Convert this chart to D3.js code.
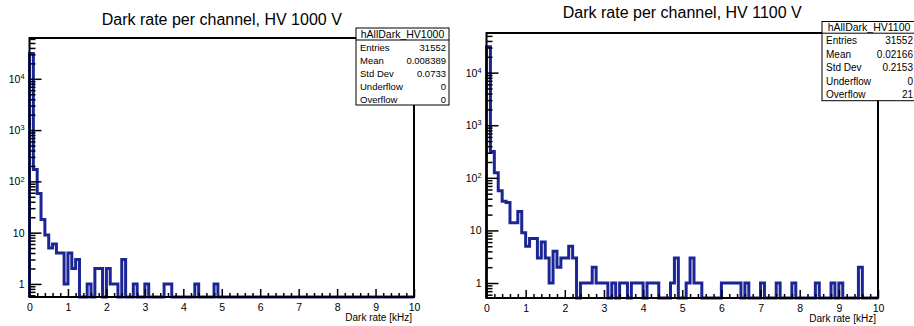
<!DOCTYPE html>
<html lang="en">
<head>
<meta charset="UTF-8"/>
<title>Dark rate per channel</title>
<style>
  body { margin:0; background:#fff; }
  svg { display:block; font-family:"Liberation Sans", Arial, sans-serif; }
</style>
</head>
<body>
<svg id="chart" width="914" height="326"></svg>
<script src="https://d3js.org/d3.v7.min.js"></script>
<script>
// histogram binning (kHz)
const binLow = 0, binHigh = 10, nBins = 100;

// bin contents, HV 1000 V
const hv1000Counts = [
  31270, 170, 58, 18, 9, 5, 6, 4, 4, 1,
  4, 2, 3, 0, 0, 1, 0, 2, 2, 0,
  2, 1, 1, 0, 3, 0, 0, 1, 0, 0,
  1, 0, 0, 0, 0, 1, 1, 0, 0, 0,
  0, 0, 0, 1, 0, 0, 0, 0, 1, 0,
  0, 0, 0, 0, 0, 0, 0, 0, 0, 0,
  0, 0, 0, 0, 0, 0, 0, 0, 0, 0,
  0, 0, 0, 0, 0, 0, 0, 0, 0, 0,
  0, 0, 0, 0, 0, 0, 0, 0, 0, 0,
  0, 0, 0, 0, 0, 0, 0, 0, 0, 0
];
// bin contents, HV 1100 V
const hv1100Counts = [
  30900, 315, 125, 57, 36, 34, 14, 14, 23, 9,
  5, 7, 7, 3, 6, 3, 1, 4, 2, 3,
  3, 5, 3, 0, 1, 1, 1, 2, 1, 1,
  1, 0, 1, 0, 1, 1, 0, 1, 1, 1,
  0, 1, 1, 1, 0, 0, 0, 1, 3, 0,
  0, 1, 3, 1, 1, 0, 0, 0, 0, 0,
  1, 1, 1, 1, 1, 0, 1, 0, 0, 0,
  1, 0, 0, 0, 1, 0, 0, 0, 1, 0,
  0, 0, 0, 0, 1, 0, 0, 0, 1, 0,
  1, 0, 0, 0, 0, 2, 0, 0, 0, 0
];

const titles    = ["Dark rate per channel, HV 1000 V", "Dark rate per channel, HV 1100 V"];
const histNames = ["hAllDark_HV1000", "hAllDark_HV1100"];
const statNames = ["Entries", "Mean", "Std Dev", "Underflow", "Overflow"];
const hv1000Stats = ["31552", "0.008389", "0.0733", "0", "0"];
const hv1100Stats = ["31552", "0.02166", "0.2153", "0", "21"];
const xTicks = [0, 1, 2, 3, 4, 5, 6, 7, 8, 9, 10];
const yTicks = [1, 10, 100, 1000, 10000];
const xTitle = "Dark rate [kHz]";

const svg = d3.select("#chart");
const lineCol = "#1b2595";

const panels = [
  { counts: hv1000Counts, stats: hv1000Stats, title: titles[0], name: histNames[0],
    fr: {l: 29.5, r: 414, t: 38, b: 297}, yDom: [0.556, 62500], titleY: 25,
    box: {x: 356, y: 28, w: 93, hh: 12, rh: 13, fs: 9.5} },
  { counts: hv1100Counts, stats: hv1100Stats, title: titles[1], name: histNames[1],
    fr: {l: 486.5, r: 878, t: 33, b: 298}, yDom: [0.519, 56700], titleY: 17.5,
    box: {x: 822, y: 21.5, w: 94, hh: 11.7, rh: 13.5, fs: 10} }
];

panels.forEach(p => {
  const {fr} = p;
  const x = d3.scaleLinear().domain([binLow, binHigh]).range([fr.l, fr.r]);
  const y = d3.scaleLog().domain(p.yDom).range([fr.b, fr.t]);
  const bw = (binHigh - binLow) / nBins;

  // title
  svg.append("text")
     .attr("x", (fr.l + fr.r) / 2).attr("y", p.titleY)
     .attr("text-anchor", "middle").attr("font-size", 16).attr("fill", "#000")
     .text(p.title);

  // histogram outline, empty bins sit on the frame bottom
  const ymin = p.yDom[0];
  const pts = [[binLow, ymin]];
  p.counts.forEach((c, i) => {
    const v = Math.max(c, ymin);
    pts.push([binLow + i * bw, v], [binLow + (i + 1) * bw, v]);
  });
  pts.push([binHigh, ymin]);
  svg.append("path")
     .attr("d", d3.line().x(d => x(d[0])).y(d => y(d[1]))(pts))
     .attr("fill", "none").attr("stroke", lineCol)
     .attr("stroke-width", 3).attr("stroke-linejoin", "miter");

  // x axis (ticks point inward)
  const gx = svg.append("g").attr("transform", `translate(0,${fr.b})`);
  gx.call(d3.axisBottom(x).tickValues(xTicks).tickSize(-8).tickPadding(7).tickFormat(d3.format("d")));
  const minorX = d3.range(0, 50).map(k => k * 0.2).filter(v => Math.abs(v - Math.round(v)) > 1e-6);
  const gxm = svg.append("g").attr("transform", `translate(0,${fr.b})`);
  gxm.call(d3.axisBottom(x).tickValues(minorX).tickSize(-4).tickFormat(""));

  // y axis (log)
  const gy = svg.append("g").attr("transform", `translate(${fr.l},0)`);
  gy.call(d3.axisLeft(y).tickValues(yTicks).tickSize(-12).tickPadding(5));
  gy.selectAll(".tick text").text(null).each(function(d) {
    const t = d3.select(this), e = Math.round(Math.log10(d));
    if (e < 2) { t.text(d); return; }
    t.append("tspan").text("10");
    t.append("tspan").attr("dy", "-0.5em").attr("font-size", "0.7em").text(e);
  });
  const minorY = [];
  [0.1, 1, 10, 100, 1000, 10000].forEach(dec => {
    for (let m = 2; m <= 9; m++) {
      const v = dec * m;
      if (v >= p.yDom[0] && v <= p.yDom[1]) minorY.push(v);
    }
  });
  const gym = svg.append("g").attr("transform", `translate(${fr.l},0)`);
  gym.call(d3.axisLeft(y).tickValues(minorY).tickSize(-6).tickFormat(""));

  [gx, gxm, gy, gym].forEach(g => {
    g.attr("font-family", null).attr("font-size", 10.5);
    g.select(".domain").remove();
    g.selectAll(".tick line").attr("stroke", "#000").attr("stroke-width", 1.5);
    g.selectAll(".tick text").attr("fill", "#000");
  });

  // frame
  svg.append("rect")
     .attr("x", fr.l).attr("y", fr.t)
     .attr("width", fr.r - fr.l).attr("height", fr.b - fr.t)
     .attr("fill", "none").attr("stroke", "#000").attr("stroke-width", 2);

  // axis title
  svg.append("text")
     .attr("x", fr.r - 2).attr("y", fr.b + 24)
     .attr("text-anchor", "end").attr("font-size", 10).attr("fill", "#000")
     .text(xTitle);

  // stats box
  const b = p.box, bh = b.hh + b.rh * statNames.length;
  const gb = svg.append("g");
  gb.append("rect").attr("x", b.x).attr("y", b.y).attr("width", b.w).attr("height", bh)
    .attr("fill", "#fff").attr("stroke", "#000").attr("stroke-width", 1);
  gb.append("line").attr("x1", b.x).attr("x2", b.x + b.w)
    .attr("y1", b.y + b.hh).attr("y2", b.y + b.hh).attr("stroke", "#000");
  gb.append("text").attr("x", b.x + b.w / 2).attr("y", b.y + b.hh - 2)
    .attr("text-anchor", "middle").attr("font-size", 10.5).text(p.name);
  statNames.forEach((n, i) => {
    const yy = b.y + b.hh + b.rh * i + b.rh - 2.5;
    gb.append("text").attr("x", b.x + 4).attr("y", yy).attr("font-size", b.fs).text(n);
    gb.append("text").attr("x", b.x + b.w - 3).attr("y", yy)
      .attr("text-anchor", "end").attr("font-size", b.fs).text(p.stats[i]);
  });
});
</script>
</body>
</html>
